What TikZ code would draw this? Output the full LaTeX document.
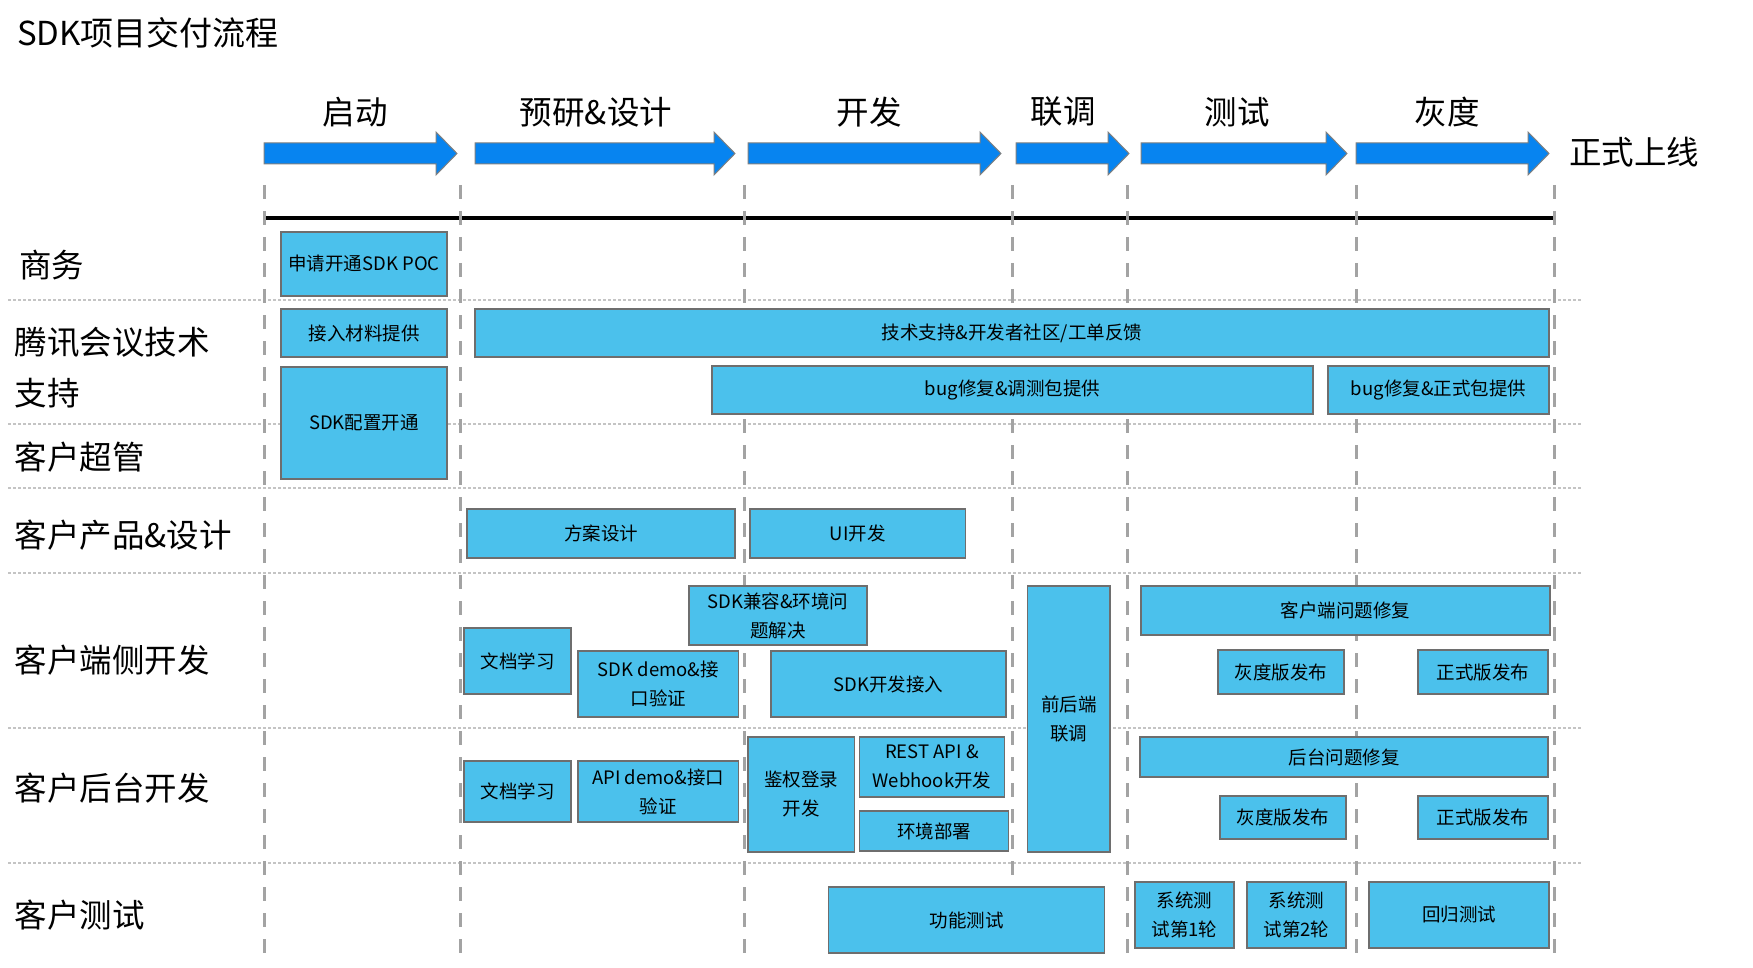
\documentclass[tikz,border=0pt]{standalone}
\usepackage{fontspec}
\setmainfont{Noto Sans CJK SC}
\definecolor{taskblue}{HTML}{4BC1EC}
\definecolor{taskline}{HTML}{6E6E6E}
\definecolor{phaseblue}{HTML}{0784F0}
\definecolor{guide}{HTML}{A3A3A3}
\definecolor{laneline}{HTML}{C4C4C4}
\tikzset{
  task/.style={draw=taskline, fill=taskblue, line width=1.5pt, inner sep=0pt, align=center,
    font=\fontsize{18.5}{29}\selectfont},
  sz/.style 2 args={minimum width=#1pt, minimum height=#2pt},
  phasearrow/.style={fill=phaseblue, draw=gray, line width=1pt},
  guideline/.style={draw=guide, line width=3pt, dash pattern=on 14pt off 12pt},
  laneborder/.style={draw=laneline, line width=2pt, dash pattern=on 2.5pt off 2.5pt},
}
\begin{document}
\begin{tikzpicture}[x=1pt,y=-1pt]
\useasboundingbox (0,0) rectangle (1753,968);

\node[anchor=west, inner sep=0pt, font=\fontsize{33}{40}\selectfont] (title) at (17,33) {SDK项目交付流程};

\begin{scope}[every node/.style={inner sep=0pt, font=\fontsize{32.5}{40}\selectfont}]
  \node (p1) at (355,112)  {启动};
  \node (p2) at (596,112)  {预研\&设计};
  \node (p3) at (869,112)  {开发};
  \node (p4) at (1063,112) {联调};
  \node (p5) at (1237,112) {测试};
  \node (p6) at (1447,112) {灰度};
  \node[anchor=west] (live) at (1569,152) {正式上线};
\end{scope}

\foreach \xa/\xb in {264/457, 475/735, 748/1001, 1016/1129, 1141/1347, 1356/1549}
  \draw[phasearrow] (\xa,143) -- (\xb-21,143) -- (\xb-21,132) -- (\xb,153.5)
    -- (\xb-21,175) -- (\xb-21,164) -- (\xa,164) -- cycle;

\foreach \y in {300,424,488,573,728,863}
  \draw[laneborder] (8,\y) -- (1582,\y);

\draw[line width=3.5pt] (264,218) -- (1553,218);

\foreach \x in {264,460,744,1012.5,1127,1356,1554}
  \draw[guideline] (\x,185) -- (\x,957);

\begin{scope}[every node/.style={anchor=west, inner sep=0pt, align=left,
    font=\fontsize{32.5}{51}\selectfont}]
  \node (biz)     at (19,265)   {商务};
  \node (tech)    at (14.5,367.5) {腾讯会议技术\\支持};
  \node (admin)   at (14.5,457) {客户超管};
  \node (product) at (14.5,535) {客户产品\&设计};
  \node (client)  at (14.5,660) {客户端侧开发};
  \node (server)  at (14.5,788) {客户后台开发};
  \node (qa)      at (14.5,915) {客户测试};
\end{scope}

\begin{scope}[every node/.style={task}]
  \node[sz={166}{64}]    (poc)      at (364,264)     {申请开通SDK POC};
  \node[sz={166}{48}]    (material) at (364,333)     {接入材料提供};
  \node[sz={166}{112}]   (config)   at (364,423)     {SDK配置开通};
  \node[sz={1074}{48}]   (support)  at (1012,333)    {技术支持\&开发者社区/工单反馈};
  \node[sz={601}{48}]    (bugtest)  at (1012.5,390)  {bug修复\&调测包提供};
  \node[sz={221}{48}]    (bugrel)   at (1438.5,390)  {bug修复\&正式包提供};

  \node[sz={268}{49}]    (plan)     at (601,533.5)   {方案设计};
  \node[sz={215.5}{49}]  (ui)       at (857.75,533.5) {UI开发};

  \node[sz={178}{59}]    (compat)   at (778,615.5)   {SDK兼容\&环境问\\题解决};
  \node[sz={107}{66}]    (cdoc)     at (517.5,661)   {文档学习};
  \node[sz={160.5}{66}]  (sdkdemo)  at (658.25,684)  {SDK demo\&接\\口验证};
  \node[sz={235}{66}]    (sdkdev)   at (888.5,684)   {SDK开发接入};
  \node[sz={82.5}{266}]  (joint)    at (1068.75,719) {前后端\\联调};
  \node[sz={409}{49}]    (cfix)     at (1345.5,610.5) {客户端问题修复};
  \node[sz={126}{44}]    (cgray)    at (1281,672)    {灰度版发布};
  \node[sz={130}{44}]    (crel)     at (1483,672)    {正式版发布};

  \node[sz={107}{61}]    (bdoc)     at (517.5,791.5) {文档学习};
  \node[sz={160.5}{61}]  (apidemo)  at (658.25,791.5) {API demo\&接口\\验证};
  \node[sz={106.5}{115}] (auth)     at (801.25,794.5) {鉴权登录\\开发};
  \node[sz={145}{60}]    (rest)     at (932,767)     {REST API \&\\Webhook开发};
  \node[sz={149}{40}]    (deploy)   at (934,831)     {环境部署};
  \node[sz={408}{40}]    (bfix)     at (1344,757)    {后台问题修复};
  \node[sz={126}{43}]    (bgray)    at (1283,817.5)  {灰度版发布};
  \node[sz={130}{43}]    (brel)     at (1483,817.5)  {正式版发布};

  \node[sz={276}{66}]    (functest) at (966.5,920)   {功能测试};
  \node[sz={99}{66}]     (sys1)     at (1184.5,915)  {系统测\\试第1轮};
  \node[sz={99}{66}]     (sys2)     at (1296.5,915)  {系统测\\试第2轮};
  \node[sz={180}{66}]    (regress)  at (1459,915)    {回归测试};
\end{scope}

\end{tikzpicture}
\end{document}
